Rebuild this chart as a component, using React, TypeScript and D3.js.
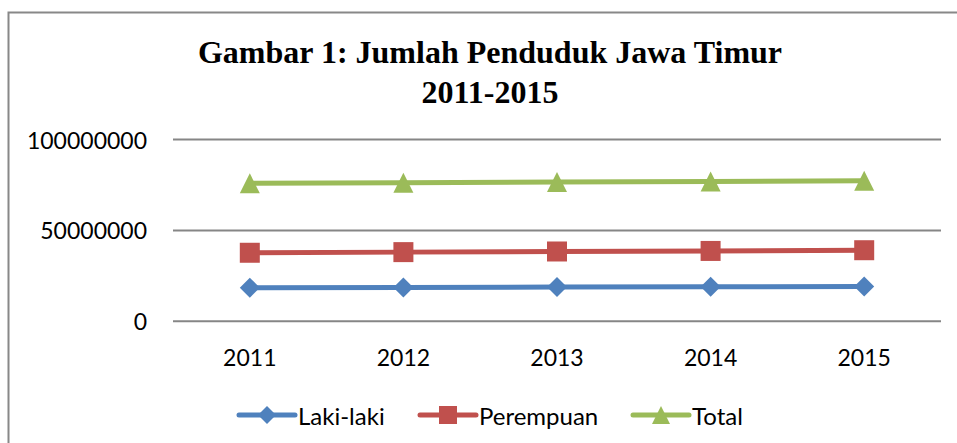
import React from "react";
import * as d3 from "d3";

const years = ["2011", "2012", "2013", "2014", "2015"];
const lakiLaki = [18500000, 18650000, 18800000, 19000000, 19150000];
const perempuan = [37700000, 38050000, 38400000, 38700000, 39100000];
const total = [75900000, 76250000, 76600000, 76900000, 77350000];
const yTicks = [0, 50000000, 100000000];
const titleLines = ["Gambar 1: Jumlah Penduduk Jawa Timur", "2011-2015"];

const W = 957;
const H = 443;

type Series = { name: string; values: number[]; color: string; marker: "diamond" | "square" | "triangle" };
const seriesList: Series[] = [
  { name: "Laki-laki", values: lakiLaki, color: "#4F81BD", marker: "diamond" },
  { name: "Perempuan", values: perempuan, color: "#C0504D", marker: "square" },
  { name: "Total", values: total, color: "#9BBB59", marker: "triangle" },
];

function markerPath(kind: string, s: number): string {
  const h = s / 2;
  if (kind === "diamond") return `M0,${-h}L${h},0L0,${h}L${-h},0Z`;
  if (kind === "square") return `M${-h},${-h}H${h}V${h}H${-h}Z`;
  return `M0,${-h}L${h},${h}L${-h},${h}Z`;
}

export default function App() {
  const x = d3.scalePoint<string>().domain(years).range([173, 941]).padding(0.5);
  const y = d3.scaleLinear().domain([0, 100000000]).range([321.3, 139.5]);
  const line = d3
    .line<number>()
    .x((_, i) => x(years[i]) as number)
    .y((d) => y(d));

  const font = "Lato, 'Noto Sans', sans-serif";
  const legendX = [239, 420, 633];
  const legendY = 415;

  return (
    <svg
      width={W}
      height={H}
      style={{ position: "absolute", left: 0, top: 0, display: "block", background: "#fff" }}
    >
      <rect x={0} y={0} width={W} height={H} fill="#fff" />
      <path d={`M8.5,${H + 5}V12.5H${W + 5}`} fill="none" stroke="#888" strokeWidth={2} />
      {titleLines.map((t, i) => (
        <text
          key={i}
          x={490}
          y={63 + i * 40}
          textAnchor="middle"
          fontFamily="'Liberation Serif', 'Times New Roman', serif"
          fontWeight="bold"
          fontSize={32}
          fill="#000"
        >
          {t}
        </text>
      ))}
      {yTicks.map((t) => (
        <g key={t}>
          <line x1={173} x2={941} y1={y(t)} y2={y(t)} stroke="#868686" strokeWidth={2} />
          <text
            x={147}
            y={y(t)}
            textAnchor="end"
            dominantBaseline="central"
            fontFamily={font}
            fontSize={23}
            fill="#000"
          >
            {t}
          </text>
        </g>
      ))}
      {years.map((yr) => (
        <text
          key={yr}
          x={x(yr) as number}
          y={357}
          textAnchor="middle"
          dominantBaseline="central"
          fontFamily={font}
          fontSize={23}
          fill="#000"
        >
          {yr}
        </text>
      ))}
      {seriesList.map((s) => (
        <g key={s.name}>
          <path d={line(s.values) || ""} fill="none" stroke={s.color} strokeWidth={5} strokeLinejoin="round" strokeLinecap="round" />
          {s.values.map((v, i) => (
            <path
              key={i}
              d={markerPath(s.marker, 20)}
              transform={`translate(${x(years[i])},${y(v)})`}
              fill={s.color}
            />
          ))}
        </g>
      ))}
      {seriesList.map((s, i) => (
        <g key={s.name} transform={`translate(${legendX[i]},${legendY})`}>
          <line x1={0} x2={56} y1={0} y2={0} stroke={s.color} strokeWidth={5} strokeLinecap="round" />
          <path d={markerPath(s.marker, 18)} transform="translate(28,0)" fill={s.color} />
          <text x={59} y={0} dominantBaseline="central" fontFamily={font} fontSize={24} fill="#000">
            {s.name}
          </text>
        </g>
      ))}
    </svg>
  );
}
